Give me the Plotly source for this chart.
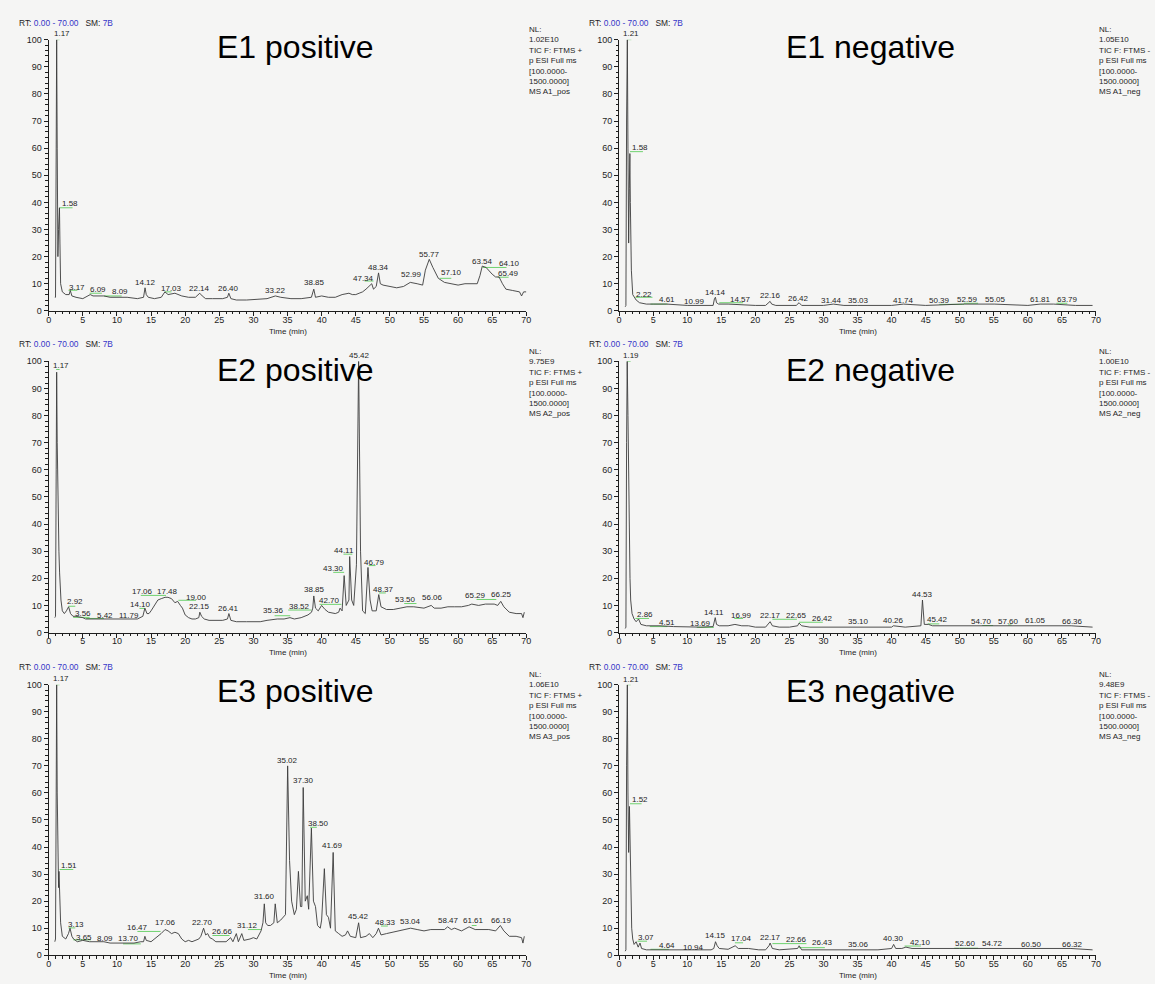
import plotly.graph_objects as go

FONT = "Liberation Sans, Arial, sans-serif"

# ---------------- E1 positive ----------------
e1p_t = [0.9,1.0,1.1,1.17,1.25,1.35,1.45,1.58,1.65,1.75,2.0,2.5,3.0,3.17,3.4,4.0,5.0,6.09,6.5,7.0,8.09,9.0,10.5,11.5,13.0,13.9,14.12,14.3,14.6,15.5,16.5,17.03,17.5,18.5,19.5,20.5,21.5,22.14,22.5,23.0,24.0,25.5,26.2,26.4,26.7,27.5,29.0,31.0,32.0,33.22,34.0,35.5,37.0,38.5,38.85,39.1,40.0,41.0,42.0,43.0,44.0,44.5,45.0,45.5,46.0,46.5,47.0,47.34,47.6,48.0,48.34,48.6,49.0,50.0,51.0,52.0,52.99,54.0,54.8,55.2,55.77,56.3,57.1,58.0,59.0,60.0,61.0,62.0,62.8,63.2,63.54,64.1,64.6,65.0,65.49,66.0,66.5,67.0,68.0,69.0,69.3,69.6,70.0]
e1p_y = [5,5,60,100,60,20,30,38,25,10,7,6,6,7.5,5.5,5,4.5,6,5.5,5.5,5.5,5,5,5,4.5,5,8.5,6,5,4.5,5,7,6,6.5,5.5,5,5,6.5,5.5,4.5,4.5,4.5,5,6.5,4.5,4,4,4.5,4.5,5.5,5,4.5,4.5,5,8,5,5.5,5,5,6,6.5,6,6,6.5,7,8,9,10,8,9,14,10,9.5,9,8.5,9,10.5,10,9.5,15,19,16,12,10.5,10,9.5,10,10,10,13,16.5,16,14.5,13.5,12.5,12.5,10,8,7.5,7,5.5,7,7]
e1p_lab = ["1.17","1.58","3.17","6.09","8.09","14.12","17.03","22.14","26.40","33.22","38.85","47.34","48.34","52.99","55.77","57.10","63.54","64.10","65.49"]
e1p_lx = [1.9,3.1,4.1,7.3,10.5,14.2,18.0,22.1,26.4,33.2,38.9,46.2,48.4,53.1,55.8,59.1,63.6,67.5,67.4]
e1p_ly = [102.2,39.5,8.5,8.0,7.0,10.6,8.4,8.4,8.4,7.6,10.6,11.8,16.0,13.3,20.7,14.0,18.2,17.5,13.9]
e1p_gx0 = [1.17,1.6,2.9,6.0,8.1,17.0,46.3,57.3,63.6,65.8]
e1p_gx1 = [1.6,3.5,4.2,7.8,10.7,18.0,47.6,59.0,67.1,67.4]
e1p_gy = [100,38,7.6,6.5,5.5,7.0,11.0,12.0,16.0,12.4]

# ---------------- E1 negative ----------------
e1n_t = [0.9,1.0,1.1,1.21,1.3,1.4,1.5,1.58,1.65,1.8,2.0,2.22,2.5,3.0,4.0,5.0,7.0,10.0,12.0,13.8,14.0,14.14,14.3,14.6,16.0,18.0,20.0,21.5,22.0,22.16,22.4,23.0,26.0,26.42,26.8,30.0,31.44,33.0,35.03,40.0,41.74,45.0,50.39,52.59,55.05,60.0,61.81,63.79,67.0,69.5]
e1n_y = [1.5,2,70,100,60,25,45,58,40,15,6,5,4,3,2.5,2.5,2.5,2,2,2,4.5,5,3,2.5,2.5,2.2,2,2,3,3.5,2.5,2,2,3,2,2,2.5,2,2,2,2.5,2,2.5,2.5,2.5,2,2.5,2.5,2,2]
e1n_lab = ["1.21","1.58","2.22","4.61","10.99","14.14","14.57","22.16","26.42","31.44","35.03","41.74","50.39","52.59","55.05","61.81","63.79"]
e1n_lx = [1.8,3.1,3.7,7.0,11.0,14.1,17.8,22.2,26.4,31.2,35.1,41.8,47.0,51.1,55.2,61.9,65.8]
e1n_ly = [102.2,60.3,6.2,4.3,3.6,6.8,4.3,5.8,4.6,3.8,4.0,4.0,4.0,4.3,4.3,4.3,4.3]
e1n_gx0 = [1.21,1.6,2.4,4.6,14.7,47.0,50.6,64.2]
e1n_gx1 = [1.8,3.5,4.9,7.1,18.2,50.6,52.7,65.8]
e1n_gy = [100,58.7,5.0,2.5,3.0,2.4,2.8,2.8]

# ---------------- E2 positive ----------------
e2p_t = [0.9,1.0,1.1,1.17,1.25,1.4,1.5,1.6,1.8,2.0,2.3,2.6,2.92,3.2,3.56,4.0,5.0,5.42,6.0,7.0,8.0,9.0,10.0,11.79,13.0,13.8,14.1,14.4,14.7,15.0,15.5,16.0,16.5,17.06,17.48,18.0,18.5,18.9,19.3,19.6,20.0,20.5,21.0,21.5,22.0,22.15,22.4,22.8,23.5,24.5,25.5,26.2,26.41,26.7,27.5,29.0,31.0,32.0,33.5,34.5,35.36,36.0,37.0,38.0,38.52,38.7,38.85,39.1,39.5,40.0,40.5,41.0,42.0,42.5,42.7,43.0,43.3,43.6,44.0,44.11,44.4,44.7,45.1,45.42,45.7,46.0,46.4,46.79,47.1,47.4,48.0,48.37,48.7,49.5,50.5,51.5,52.5,53.5,54.5,55.0,56.06,56.5,57.5,58.5,59.5,60.5,61.5,62.0,63.0,64.0,65.29,65.8,66.25,66.7,67.5,68.5,69.3,69.5,69.7]
e2p_y = [5.5,6,60,96,70,40,30,22,12,8,7,8,9.5,7,6,6,5.5,5,5,5,5,5,5,5,5,6,9,7,7,8,10,12,12.5,13,13,12.5,11,11.5,10,9,6.5,5.5,5,5,5.5,7.5,6,5,4.5,4.5,4.5,5,7,4.5,4,4,4,4.5,5,5,5.5,5,5.5,6.5,7.5,9,13.5,9,8,10,8.5,7.5,7,7.5,9,8,21,10,12,28,12,10,25,100,30,8,7,24,12,8,8,14,9.5,8.5,8.5,9,9.5,9.5,9,9,10,9,9,9.5,9.5,9.5,10,10.5,10,10.5,10.5,10,11.5,9.5,7.5,7,7,5.5,7.5]
e2p_lab = ["1.17","2.92","3.56","5.42","11.79","14.10","17.06","17.48","19.00","22.15","26.41","35.36","38.52","38.85","42.70","43.30","44.11","45.42","46.79","48.37","53.50","56.06","65.29","66.25"]
e2p_lx = [1.8,3.8,5.1,8.3,11.7,13.4,13.7,17.4,21.6,22.1,26.4,32.9,36.7,38.9,41.1,41.7,43.3,45.5,47.7,49.0,52.3,56.2,62.6,66.4]
e2p_ly = [98.5,11.3,7.0,6.4,6.4,10.3,15.0,15.3,13.1,9.5,8.9,8.0,9.7,15.8,11.9,23.5,30.1,102.2,25.9,15.8,12.2,12.9,13.7,14.1]
e2p_gx0 = [1.1,2.9,3.6,5.5,13.3,13.5,19.0,33.1,35.1,39.7,41.7,43.2,46.9,48.4,52.1,62.7]
e2p_gx1 = [1.6,3.9,6.0,8.1,14.1,17.2,21.6,35.4,38.5,42.9,43.3,44.5,47.9,49.4,53.9,65.6]
e2p_gy = [97,9.7,5.6,5.2,8.9,13.7,11.9,6.2,8.3,10.4,22.2,28.9,24.7,14.6,10.7,12.2]

# ---------------- E2 negative ----------------
e2n_t = [0.9,1.0,1.1,1.19,1.3,1.4,1.5,1.6,1.7,1.9,2.2,2.5,2.86,3.2,4.0,6.0,8.0,10.0,12.0,13.8,14.0,14.11,14.3,14.7,16.0,17.0,18.0,19.0,20.0,21.5,22.0,22.17,22.5,23.5,25.0,26.2,26.42,26.8,28.0,31.0,35.1,40.0,40.26,42.0,44.3,44.53,44.8,45.42,46.0,50.0,54.7,57.6,61.05,66.36,69.5]
e2n_y = [1.5,2,70,100,80,50,30,20,12,7,5,4,5,3,2.5,2.5,2.2,2,2,2.2,5,5.5,3,2.5,2.5,3,2.5,2.5,2,2,3.5,4,2.5,2,2,2.5,3.5,2.5,2,2,2,2,2.5,2,2.5,12,3,3,2.5,2.5,2.5,2.5,2.5,2.5,2]
e2n_lab = ["1.19","2.86","4.51","13.69","14.11","16.99","22.17","22.65","26.42","35.10","40.26","44.53","45.42","54.70","57.60","61.05","66.36"]
e2n_lx = [1.8,3.8,7.0,11.9,14.0,17.9,22.2,26.0,29.8,35.1,40.3,44.6,46.8,53.2,57.2,61.1,66.5]
e2n_ly = [102.2,6.8,3.8,3.4,7.3,6.4,6.4,6.2,5.2,4.0,4.4,14.0,4.9,4.0,4.0,4.3,4.0]
e2n_gx0 = [1.19,2.4,4.5,11.4,16.9,22.5,26.4,45.3,53.3,57.1]
e2n_gx1 = [1.7,4.4,7.1,13.9,18.2,26.1,29.9,47.0,54.9,57.6]
e2n_gy = [100,5.2,2.2,1.9,5.2,4.9,3.8,3.2,2.6,2.8]

# ---------------- E3 positive ----------------
e3p_t = [0.9,1.0,1.1,1.17,1.25,1.35,1.45,1.51,1.6,1.75,2.0,2.5,2.9,3.13,3.4,3.65,4.2,5.0,6.0,8.09,9.0,10.0,11.0,12.5,13.5,13.7,13.9,14.1,14.3,15.0,16.0,16.47,17.06,17.5,18.0,18.5,19.0,19.5,20.0,20.5,21.0,21.5,22.0,22.3,22.7,23.0,23.3,23.6,24.0,24.5,25.0,26.0,26.66,27.0,27.5,27.8,28.3,28.6,29.5,30.0,30.5,31.12,31.4,31.6,31.8,32.1,32.5,33.0,33.2,33.5,34.0,34.4,34.7,35.02,35.3,35.6,36.0,36.3,36.6,36.9,37.1,37.3,37.6,37.9,38.1,38.5,38.8,39.1,39.4,39.8,40.0,40.4,40.7,41.0,41.3,41.69,42.0,42.5,43.0,43.5,43.8,44.2,45.0,45.42,45.7,46.5,47.0,47.5,48.0,48.33,48.7,49.5,50.5,51.5,52.5,53.04,54.0,55.0,56.0,57.0,58.0,58.47,59.0,59.5,60.5,61.61,62.5,63.5,64.5,65.5,66.19,66.7,67.5,68.5,69.3,69.5,69.7]
e3p_y = [5,6,60,100,60,30,25,31,25,12,7,6,8,10,7,6,5,5.5,5,5,4.5,4.5,4.5,4.5,5,5,5,7,5.5,5,7,8,9.5,9,8,8.5,8,6,5,5.5,5,5.5,6,7,10,7.5,8,6.5,6,5,5,5,6.5,5,8,5,8,5.5,6,6.5,6,9,12,19,12,11,11,12,19,12,13,14,15,70,35,20,15,17,31,18,18,62,20,22,17,47,20,18,11,10,13,32,15,14,10,38,9,8,7,7.5,9,7,6.5,12,6.5,7,8,6.5,8,10,7.5,8,8.5,9,9.5,10,9.5,9,9.5,9.5,9.5,10.5,9.5,10,9,10.5,9.5,9.5,9.5,9,11,9,7,7,6.5,4.5,7]
e3p_lab = ["1.17","1.51","3.13","3.65","8.09","13.70","16.47","17.06","22.70","26.66","31.12","31.60","35.02","37.30","38.50","41.69","45.42","48.33","53.04","58.47","61.61","66.19"]
e3p_lx = [1.8,3.0,4.0,5.2,8.3,11.7,13.0,17.1,22.6,25.4,29.2,31.6,35.0,37.3,39.5,41.6,45.4,49.3,53.0,58.6,62.3,66.3]
e3p_ly = [102.2,33.2,11.5,6.6,6.1,6.1,10.1,12.0,12.2,8.8,11.0,21.7,72.0,64.6,48.8,40.5,14.4,12.2,12.4,12.7,12.7,12.7]
e3p_gx0 = [1.1,1.6,2.9,3.6,10.9,13.0,24.0,29.2,38.3,48.7,62.0]
e3p_gx1 = [1.6,3.6,3.9,6.2,13.5,16.4,26.5,31.2,39.3,49.7,62.7]
e3p_gy = [100,31.7,10.1,5.7,4.2,8.8,7.3,9.5,47.3,10.8,11.0]

# ---------------- E3 negative ----------------
e3n_t = [0.9,1.0,1.1,1.21,1.3,1.4,1.52,1.6,1.7,1.85,2.0,2.2,2.5,2.8,3.07,3.3,4.0,5.0,7.0,10.0,13.5,13.9,14.15,14.4,14.7,16.0,17.04,17.5,19.0,20.5,21.5,22.0,22.17,22.5,23.5,26.2,26.43,26.8,30.0,35.06,38.0,40.0,40.3,40.6,41.5,42.1,43.0,50.0,52.6,54.72,60.5,66.32,69.5]
e3n_y = [1.5,2,70,100,60,38,55,40,20,10,6,4,5,3,4.5,2.5,2,2,2.2,2,2,2.5,5,3.5,2.5,2.2,3.5,2.5,2.5,2,2,3.5,4.5,2.5,2,2.5,3.5,2,2,2,2,2.5,4,2.5,2.5,3,2.5,2.5,2.5,2.5,2.5,2.5,2]
e3n_lab = ["1.21","1.52","3.07","4.64","10.94","14.15","17.04","22.17","22.66","26.43","35.06","40.30","42.10","52.60","54.72","60.50","66.32"]
e3n_lx = [1.8,3.1,3.9,7.1,10.9,14.1,17.9,22.2,26.0,29.8,35.1,40.3,44.3,50.8,54.8,60.5,66.5]
e3n_ly = [101.8,57.6,6.5,3.7,3.0,7.3,6.1,6.5,5.9,4.6,4.0,6.1,4.6,4.3,4.3,4.0,4.0]
e3n_gx0 = [1.21,1.6,2.7,4.6,17.0,22.5,26.4,41.9,49.2]
e3n_gx1 = [1.7,3.3,4.1,7.3,18.2,27.5,30.2,44.3,52.7]
e3n_gy = [100,56,5.2,2.2,4.6,4.3,2.8,3.4,2.6]

# panel titles and header texts
titles = ["E1 positive", "E1 negative", "E2 positive", "E2 negative", "E3 positive", "E3 negative"]
nl_values = ["1.02E10", "1.05E10", "9.75E9", "1.00E10", "1.06E10", "9.48E9"]
polarity = ["+", "-", "+", "-", "+", "-"]
ms_names = ["MS A1_pos", "MS A1_neg", "MS A2_pos", "MS A2_neg", "MS A3_pos", "MS A3_neg"]
x_ticks = [0, 5, 10, 15, 20, 25, 30, 35, 40, 45, 50, 55, 60, 65, 70]
y_ticks = [0, 10, 20, 30, 40, 50, 60, 70, 80, 90, 100]

panels = [
    (e1p_t, e1p_y, e1p_lab, e1p_lx, e1p_ly, e1p_gx0, e1p_gx1, e1p_gy),
    (e1n_t, e1n_y, e1n_lab, e1n_lx, e1n_ly, e1n_gx0, e1n_gx1, e1n_gy),
    (e2p_t, e2p_y, e2p_lab, e2p_lx, e2p_ly, e2p_gx0, e2p_gx1, e2p_gy),
    (e2n_t, e2n_y, e2n_lab, e2n_lx, e2n_ly, e2n_gx0, e2n_gx1, e2n_gy),
    (e3p_t, e3p_y, e3p_lab, e3p_lx, e3p_ly, e3p_gx0, e3p_gx1, e3p_gy),
    (e3n_t, e3n_y, e3n_lab, e3n_lx, e3n_ly, e3n_gx0, e3n_gx1, e3n_gy),
]

W, H = 1155, 984
col_px = [(46.0, 527.0), (620.4, 1100.6)]
row_px = [(35.0, 309.0), (360.0, 634.0), (686.7, 960.0)]
title_y_px = [42.7, 368.3, 693.3]
title_x_px = [294.6, 874.0]
rt_x_px = [13.6, 588.0]
rt_y_px = [17.8, 342.8, 669.2]
nl_x_px = [528.0, 1102.0]

def px_x(v):
    return v / W

def px_y(v):
    return 1 - v / H

fig = go.Figure()
annotations = []
layout_axes = {}
blue = "#3737c8"
green = "#6fd26f"
ink = "#1e1e1e"

for i, (t, y, lab, lx, ly, gx0, gx1, gy) in enumerate(panels):
    r, c = divmod(i, 2)
    n = i + 1
    xa = "x" if n == 1 else f"x{n}"
    ya = "y" if n == 1 else f"y{n}"
    x0, x1 = col_px[c]
    ytop, ybot = row_px[r]
    px_per_unit = (ybot - ytop) / 100.0
    # green peak markers
    gxs, gys = [], []
    for a, b, v in zip(gx0, gx1, gy):
        gxs += [a, b, None]
        gys += [v, v, None]
    fig.add_trace(go.Scatter(x=gxs, y=gys, mode="lines", xaxis=xa, yaxis=ya,
                             line=dict(color=green, width=1), hoverinfo="skip",
                             showlegend=False, cliponaxis=False))
    fig.add_trace(go.Scatter(x=t, y=y, mode="lines", xaxis=xa, yaxis=ya,
                             line=dict(color="#3c3c3c", width=0.9),
                             showlegend=False))
    # peak labels, positioned through the axes of this panel
    for txt, px_, py_ in zip(lab, lx, ly):
        yv = min(py_, 100.0)
        annotations.append(dict(text=txt, x=px_, y=yv, xref=xa, yref=ya,
                                yshift=(py_ - yv) * px_per_unit,
                                xanchor="center", yanchor="middle", showarrow=False,
                                font=dict(family=FONT, size=8, color=ink)))
    xkey = "xaxis" if n == 1 else f"xaxis{n}"
    ykey = "yaxis" if n == 1 else f"yaxis{n}"
    layout_axes[xkey] = dict(
        domain=[px_x(x0), px_x(x1)], anchor=ya, range=[0, 70],
        tickmode="array", tickvals=x_ticks, ticktext=[str(v) for v in x_ticks],
        ticks="outside", ticklen=4, tickwidth=1, tickcolor=ink, ticklabelstandoff=-4,
        minor=dict(dtick=1, ticks="outside", ticklen=2.5, tickcolor=ink, tickwidth=1),
        showline=True, linecolor=ink, linewidth=1, showgrid=False, zeroline=False,
        tickfont=dict(family=FONT, size=9, color=ink), fixedrange=True)
    layout_axes[ykey] = dict(
        domain=[px_y(ybot), px_y(ytop)], anchor=xa, range=[0, 100],
        tickmode="array", tickvals=y_ticks, ticktext=[str(v) for v in y_ticks],
        ticks="outside", ticklen=4, tickwidth=1, tickcolor=ink,
        minor=dict(dtick=2, ticks="outside", ticklen=2.5, tickcolor=ink, tickwidth=1),
        showline=True, linecolor=ink, linewidth=1, showgrid=False, zeroline=False,
        tickfont=dict(family=FONT, size=9, color=ink), fixedrange=True)
    # Title
    annotations.append(dict(text=titles[i], x=px_x(title_x_px[c]), y=px_y(title_y_px[r]),
                            xref="paper", yref="paper", xanchor="center", yanchor="middle",
                            showarrow=False, font=dict(family=FONT, size=32, color="#000")))
    # RT header
    annotations.append(dict(
        text=f"RT: <span style='color:{blue}'>0.00 - 70.00</span>&nbsp;&nbsp;&nbsp;SM: <span style='color:{blue}'>7B</span>",
        x=px_x(rt_x_px[c]), y=px_y(rt_y_px[r]), xref="paper", yref="paper",
        xanchor="left", yanchor="middle", showarrow=False,
        font=dict(family=FONT, size=8.4, color=ink)))
    # NL block
    annotations.append(dict(
        text=f"NL:<br>{nl_values[i]}<br>TIC F: FTMS {polarity[i]}<br>p ESI Full ms<br>[100.0000-<br>1500.0000]<br>{ms_names[i]}",
        x=px_x(nl_x_px[c]), y=px_y(ytop - 17), xref="paper", yref="paper",
        xanchor="left", yanchor="top", align="left", showarrow=False,
        font=dict(family=FONT, size=8, color=ink)))
    # Time (min)
    annotations.append(dict(
        text="Time (min)", x=px_x((x0 + x1) / 2), y=px_y(ybot + 20.5),
        xref="paper", yref="paper", xanchor="center", yanchor="middle",
        showarrow=False, font=dict(family=FONT, size=8, color=ink)))

fig.update_layout(
    width=W, height=H, margin=dict(l=0, r=0, t=0, b=0),
    paper_bgcolor="#f5f5f4", plot_bgcolor="rgba(0,0,0,0)",
    showlegend=False, annotations=annotations, font=dict(family=FONT),
    **layout_axes)

fig.write_html("out.html")
